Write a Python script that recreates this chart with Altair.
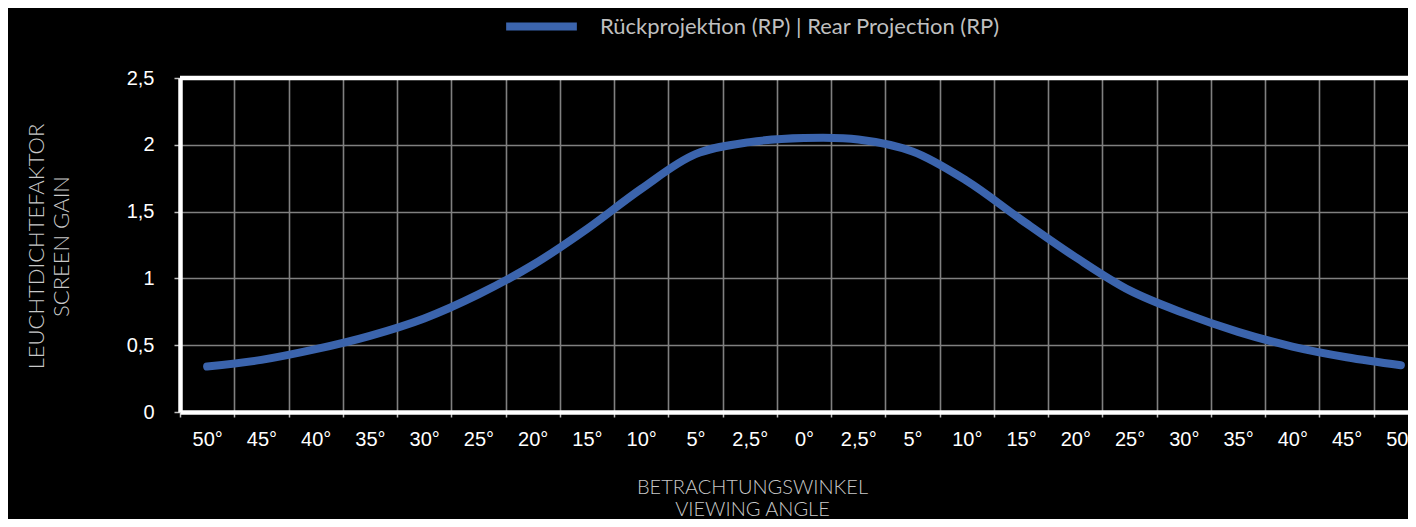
import json
import altair as alt
import pandas as pd

angle_labels = ["50°", "45°", "40°", "35°", "30°", "25°", "20°", "15°", "10°", "5°", "2,5°",
                "0°", "2,5°", "5°", "10°", "15°", "20°", "25°", "30°", "35°", "40°", "45°", "50°"]
gain_values = [0.34, 0.39, 0.47, 0.57, 0.70, 0.88, 1.10, 1.37, 1.67, 1.93, 2.02,
               2.05, 2.04, 1.95, 1.73, 1.44, 1.16, 0.91, 0.74, 0.60, 0.49, 0.41, 0.35]
series_name = "Rückprojektion (RP) | Rear Projection (RP)"
y_ticks = [0, 0.5, 1, 1.5, 2, 2.5]
y_top = [2.5]

df = pd.DataFrame({
    "idx": list(range(len(angle_labels))),
    "gain": gain_values,
    "series": [series_name] * len(angle_labels),
})
top_df = pd.DataFrame({"gain": y_top})

label_expr = json.dumps(angle_labels, ensure_ascii=False).replace('"', "'") + "[datum.value]"

x_enc = alt.X(
    "idx:O",
    bandPosition=0.5,
    scale=alt.Scale(type="band", range=[0, 1248], paddingInner=0, paddingOuter=0),
    axis=alt.Axis(
        tickBand="extent",
        labelExpr=label_expr,
        labelAngle=0,
        labelFont="Liberation Sans",
        labelFontSize=20,
        labelColor="white",
        labelPadding=12,
        tickSize=5,
        tickColor="#bfbfbf",
        tickWidth=1.5,
        domainColor="white",
        domainWidth=4.5,
        grid=True,
        gridColor="#808080",
        gridWidth=1.6,
        title=["BETRACHTUNGSWINKEL", "VIEWING ANGLE"],
        titleFont="Lato",
        titleFontWeight=300,
        titleFontSize=20,
        titleColor="#c8c8c8",
        titleLineHeight=22,
        titleX=572,
        titleY=81,
        titleAlign="center",
        titleBaseline="alphabetic",
    ),
)

y_enc = alt.Y(
    "gain:Q",
    scale=alt.Scale(domain=[0, 2.5], nice=False, zero=True),
    axis=alt.Axis(
        values=y_ticks,
        labelExpr="replace(toString(datum.value), '.', ',')",
        labelFont="Liberation Sans",
        labelFontSize=20,
        labelColor="white",
        labelPadding=20,
        tickSize=6,
        tickColor="#bfbfbf",
        tickWidth=1.5,
        domainColor="white",
        domainWidth=4.5,
        grid=True,
        gridColor="#808080",
        gridWidth=1.6,
        title=["LEUCHTDICHTEFAKTOR", "SCREEN GAIN"],
        titleFont="Lato",
        titleFontWeight=300,
        titleFontSize=22,
        titleColor="#c8c8c8",
        titleLineHeight=25,
        titleAngle=270,
        titleX=-137,
        titleY=168,
        titleAlign="center",
        titleBaseline="alphabetic",
    ),
)

line = alt.Chart(df).mark_line(
    strokeWidth=8, strokeCap="round", strokeJoin="round", interpolate="catmull-rom"
).encode(
    x=x_enc,
    y=y_enc,
    color=alt.Color(
        "series:N",
        scale=alt.Scale(range=["#3b64ad"]),
        legend=alt.Legend(
            title=None,
            orient="none",
            legendX=322,
            legendY=-91,
            direction="horizontal",
            symbolType="stroke",
            symbolSize=5000,
            symbolStrokeWidth=8,
            labelOffset=19,
            labelFont="Lato",
            labelFontSize=22,
            labelColor="#bfbfbf",
            labelLimit=0,
            padding=0,
        ),
    ),
)

top_rule = alt.Chart(top_df).mark_rule(color="white", strokeWidth=4.5).encode(
    y=y_enc
)

chart = alt.layer(line, top_rule).properties(
    width=1228,
    height=334,
    padding={"left": 172, "top": 70, "right": 0, "bottom": 107},
    autosize=alt.AutoSizeParams(type="none"),
    background="black",
).configure_view(stroke=None)

chart.save("out.html", embed_options={"renderer": "svg", "actions": False})
